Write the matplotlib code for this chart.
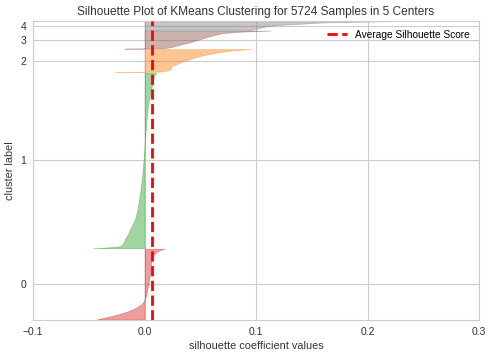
import numpy as np
import matplotlib
matplotlib.use("Agg")
import matplotlib.pyplot as plt

# cluster sizes (samples per cluster), 5724 total
sizes = [1368, 3394, 442, 348, 172]
colors = ["#d62728", "#2ca02c", "#ff7f0e", "#8c564b", "#7f7f7f"]
avg_score = 0.0065

# sorted silhouette values per cluster, sampled at rank fractions
q0 = [0, .029, .071, .114, .157, .2, .243, .286, .357, .429, .5, .571, .643,
      .714, .786, .857, .9, .929, .957, .986, 1]
s0 = [-0.043, -0.035, -0.024, -0.015, -0.0085, -0.004, -0.0013, 0.0004, 0.0018,
      0.0025, 0.0036, 0.0043, 0.0049, 0.0054, 0.0058, 0.0067, 0.0076, 0.009,
      0.011, 0.015, 0.018]
q1 = [0, .006, .011, .028, .051, .079, .107, .164, .22, .277, .333, .39, .446,
      .503, .559, .616, .672, .729, .785, .842, .898, .955, .983, 1]
s1 = [-0.046, -0.029, -0.022, -0.019, -0.0175, -0.015, -0.013, -0.0085, -0.0063,
      -0.0049, -0.0036, -0.0025, -0.0016, -0.0009, -0.0002, 0.0004, 0.0011,
      0.0018, 0.0027, 0.004, 0.0058, 0.0076, 0.009, 0.0103]
q2 = [0, .02, .045, .12, .27, .42, .58, .73, .88, .96, 1]
s2 = [-0.0265, 0.015, 0.018, 0.023, 0.0247, 0.032, 0.041, 0.052, 0.068, 0.081, 0.096]
q3 = [0, .02, .1, .19, .36, .53, .7, .86, .94, 1]
s3 = [-0.018, 0.017, 0.025, 0.03, 0.041, 0.05, 0.059, 0.07, 0.085, 0.113]
q4 = [0, .14, .29, .43, .57, .71, .86, 1]
s4 = [0.095, 0.10, 0.105, 0.11, 0.12, 0.14, 0.16, 0.22]

ranks = [q0, q1, q2, q3, q4]
values = [s0, s1, s2, s3, s4]

plt.rcParams['font.family'] = ['Liberation Sans', 'DejaVu Sans']
fig = plt.figure(figsize=(4.91, 3.56), dpi=100)
ax = fig.add_axes([0.0672, 0.1011, 0.9084, 0.8408])

y_lower = 10
tick_pos = []
for i in range(len(sizes)):
    y = y_lower + np.array(ranks[i]) * sizes[i]
    ax.fill_betweenx(y, 0, values[i], facecolor=colors[i], edgecolor=colors[i],
                     alpha=0.45, linewidth=0.5, zorder=2)
    tick_pos.append(y_lower + 0.5 * sizes[i])
    y_lower += sizes[i] + 10

ax.axvline(avg_score, color="red", linestyle="--", linewidth=2,
           label="Average Silhouette Score", zorder=3)

ax.set_xlim(-0.1, 0.3)
ax.set_ylim(0, y_lower)
ax.set_yticks(tick_pos)
ax.set_yticklabels([str(i) for i in range(len(sizes))])
ax.set_xticks([-0.1, 0.0, 0.1, 0.2, 0.3])

ax.set_title("Silhouette Plot of KMeans Clustering for 5724 Samples in 5 Centers",
             fontsize=8.6, color="#333333", pad=4)
ax.set_xlabel("silhouette coefficient values", fontsize=7.8, color="#333333", labelpad=3)
ax.set_ylabel("cluster label", fontsize=7.8, color="#333333", labelpad=4)

ax.grid(True, color="#cccccc", linewidth=0.8, zorder=0)
ax.set_axisbelow(True)
for sp in ax.spines.values():
    sp.set_color("#cccccc")
ax.tick_params(length=0, labelsize=7.5, colors="#333333", pad=5)

ax.legend(loc="upper right", frameon=False, fontsize=7.25)

fig.savefig("out.png", dpi=100)
